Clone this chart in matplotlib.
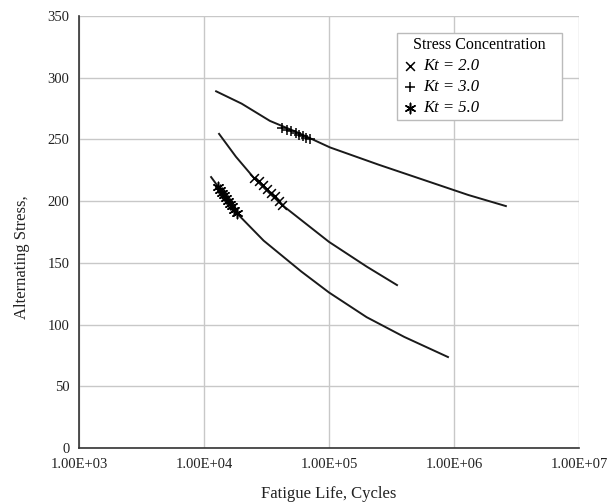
import numpy as np
import matplotlib
matplotlib.use('Agg')
import matplotlib.pyplot as plt
from matplotlib.ticker import FuncFormatter, FixedLocator

plt.rcParams['font.family'] = ['Liberation Serif', 'DejaVu Serif']

# fitted curves (cycles, stress)
top_n = [1.25e4, 2.0e4, 3.37e4, 5.5e4, 1.02e5, 2.5e5, 6.0e5, 1.3e6, 2.6e6]
top_s = [289, 279, 265, 256, 243.5, 229.5, 216.5, 205, 196]
mid_n = [1.32e4, 1.8e4, 2.5e4, 3.3e4, 4.2e4, 1.0e5, 2.0e5, 3.5e5]
mid_s = [254.5, 236, 219, 207, 197, 167, 147, 132]
bot_n = [1.14e4, 1.5e4, 1.84e4, 3.0e4, 6.0e4, 1.0e5, 2.0e5, 4.0e5, 8.95e5]
bot_s = [219.5, 203, 190, 168, 143, 126, 106, 90, 73.7]

# test points
kt2_n = [2.5e4, 2.75e4, 2.95e4, 3.2e4, 3.45e4, 3.7e4, 3.95e4, 4.2e4]
kt2_s = [219, 216, 213, 210, 207, 204, 200, 197]
kt3_n = [4.2e4, 4.6e4, 5.0e4, 5.4e4, 5.8e4, 6.2e4, 6.6e4, 7.0e4]
kt3_s = [259.5, 258, 256.5, 255, 253.5, 252.5, 251, 250]
kt5_n = [1.29e4, 1.34e4, 1.39e4, 1.45e4, 1.5e4, 1.56e4, 1.62e4, 1.68e4, 1.75e4, 1.84e4]
kt5_s = [211.5, 209, 207, 205, 202.5, 200, 198, 196, 193, 190]

x_ticks = [1e3, 1e4, 1e5, 1e6, 1e7]
y_ticks = [0, 50, 100, 150, 200, 250, 300, 350]

fig = plt.figure(figsize=(6.11, 5.04), dpi=100)
ax = fig.add_axes([79/611, 1-448/504, 500/611, 432/504])

for n, s in [(top_n, top_s), (mid_n, mid_s), (bot_n, bot_s)]:
	ax.plot(n, s, color='#1a1a1a', lw=1.4, zorder=2)

asterisk = (6, 2, 0)
h1 = ax.scatter(kt2_n, kt2_s, marker='x', s=40, c='black', linewidths=1.1, zorder=3)
h2 = ax.scatter(kt3_n, kt3_s, marker='+', s=55, c='black', linewidths=1.1, zorder=3)
h3 = ax.scatter(kt5_n, kt5_s, marker=asterisk, s=55, c='black', linewidths=1.1, zorder=3)

ax.set_xscale('log')
ax.set_xlim(1e3, 1e7)
ax.set_ylim(0, 350)
ax.xaxis.set_major_locator(FixedLocator(x_ticks))
ax.xaxis.set_minor_locator(FixedLocator([]))
ax.xaxis.set_major_formatter(FuncFormatter(lambda v, p: '%.2E' % v))
ax.set_yticks(y_ticks)
ax.grid(True, color='#c8c8c8', lw=1.0)
ax.set_axisbelow(True)
ax.tick_params(length=0, labelsize=10.5, colors='#222222', pad=7)

for side in ['top', 'right']:
	ax.spines[side].set_visible(False)
for side in ['left', 'bottom']:
	ax.spines[side].set_color('#333333')
	ax.spines[side].set_linewidth(1.2)

ax.set_xlabel('Fatigue Life, Cycles', fontsize=12, color='#222222', labelpad=11)
ax.set_ylabel('Alternating Stress,', fontsize=12, color='#222222')
ax.yaxis.set_label_coords(-0.098, 0.442)

leg = ax.legend([h1, h2, h3], ['Kt = 2.0', 'Kt = 3.0', 'Kt = 5.0'],
	title='   Stress Concentration   ', loc='upper right', bbox_to_anchor=(0.966, 0.961),
	borderaxespad=0, fancybox=False, edgecolor='#bbbbbb', framealpha=1,
	prop={'style': 'italic', 'size': 12}, title_fontsize=11.5, alignment='left',
	handletextpad=0.3, handlelength=1.0, labelspacing=0.3, borderpad=0.25,
	scatterpoints=1)
leg.get_frame().set_linewidth(1.0)

fig.savefig('out.png', dpi=100)
